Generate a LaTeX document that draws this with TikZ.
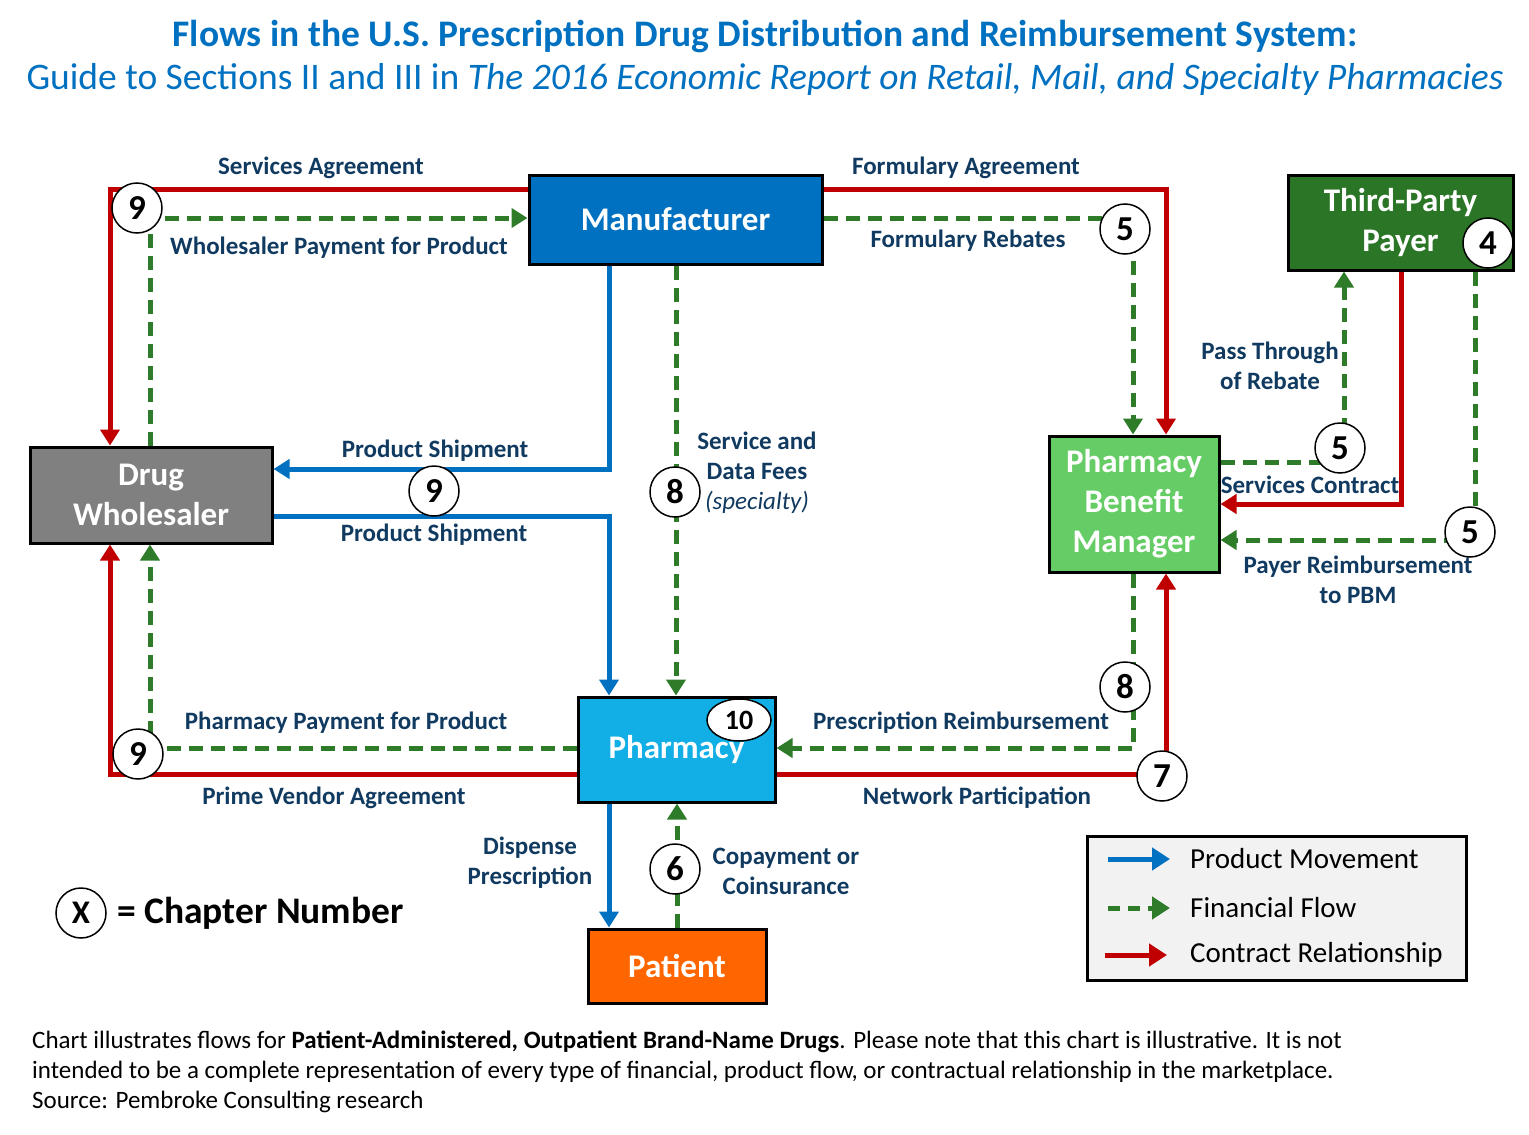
\documentclass[tikz,border=0pt]{standalone}
\usepackage{fontspec}
\setmainfont{Carlito}
\usetikzlibrary{arrows.meta,shapes.geometric}
\definecolor{cblue}{HTML}{0070C0}
\definecolor{cred}{HTML}{C00000}
\definecolor{cgreen}{HTML}{2E7B2A}
\definecolor{lab}{HTML}{113A60}
\definecolor{titleblue}{HTML}{0070C0}
\definecolor{manblue}{HTML}{0070C0}
\definecolor{tppgreen}{HTML}{2B7526}
\definecolor{pbmgreen}{HTML}{66CC66}
\definecolor{pharmblue}{HTML}{12AEE6}
\definecolor{patorange}{HTML}{FF6600}
\definecolor{wgray}{HTML}{808080}
\definecolor{legfill}{HTML}{F2F2F2}
\begin{document}
\begin{tikzpicture}[x=1pt,y=-1pt,
  box/.style={draw=black,line width=3pt,text=white,font=\fontsize{33}{40}\selectfont\bfseries,align=center,inner sep=0pt},
  num/.style={circle,draw=black,line width=1.5pt,fill=white,minimum size=50pt,inner sep=0pt,font=\fontsize{35}{35}\selectfont\bfseries},
  lbl/.style={text=lab,font=\fontsize{25}{30}\selectfont\bfseries,align=center,inner sep=0pt},
  legtxt/.style={anchor=west,font=\fontsize{29}{30}\selectfont,inner sep=0pt},
  tip/.style={-{Triangle[length=16pt,width=19pt]}},
  prod/.style={cblue,line width=5pt,tip},
  fin/.style={cgreen,line width=5pt,dash pattern=on 14pt off 8pt,tip},
  con/.style={cred,line width=5pt,tip},
]
\useasboundingbox (0,0) rectangle (1529,1135);

% title
\node[text=titleblue,font=\fontsize{37.5}{40}\selectfont\bfseries,inner sep=0pt] (title) at (765,36)
  {Flows in the U.S. Prescription Drug Distribution and Reimbursement System:};
\node[text=titleblue,font=\fontsize{37.5}{40}\selectfont,inner sep=0pt] (subtitle) at (765,80)
  {Guide to Sections II and III in \textit{The 2016 Economic Report on Retail, Mail, and Specialty Pharmacies}};

% boxes
\node[box,fill=manblue,minimum width=293pt,minimum height=89pt] (man) at (675.5,219.5) {Manufacturer};
\node[box,fill=tppgreen,minimum width=225pt,minimum height=95pt] (tpp) at (1400.5,222.5) {Third-Party\\Payer};
\node[box,fill=wgray,minimum width=242pt,minimum height=96pt] (whole) at (151,495) {Drug\\Wholesaler};
\node[box,fill=pbmgreen,minimum width=170pt,minimum height=136pt] (pbm) at (1134,504) {Pharmacy\\Benefit\\Manager};
\node[box,fill=pharmblue,minimum width=197pt,minimum height=105pt] (pharm) at (676.5,749.5) {Pharmacy};
\node[box,fill=patorange,minimum width=178pt,minimum height=74pt] (pat) at (677,966) {Patient};

% bend coordinates
\coordinate (sa) at (110,189);
\coordinate (wp) at (150,218);
\coordinate (fa) at (1166,189);
\coordinate (fr) at (1133,218);
\coordinate (ps1) at (609,469);
\coordinate (ps2) at (609,516);
\coordinate (sd) at (676,0);
\coordinate (pp) at (150,748);
\coordinate (pv) at (110,774);
\coordinate (pr) at (1133,748);
\coordinate (np) at (1166,774);
\coordinate (pt) at (1344,462);
\coordinate (sc) at (1401,504);
\coordinate (prb) at (1475,540);
\coordinate (dp) at (609,0);
\coordinate (cp) at (677,0);

% connectors
\draw[con] (man.west |- sa) -- (sa) -- (sa |- whole.north);
\draw[fin] (wp |- whole.north) -- (wp) -- (wp -| man.west);
\draw[con] (man.east |- fa) -- (fa) -- (fa |- pbm.north);
\draw[fin] (man.east |- fr) -- (fr) -- (fr |- pbm.north);
\draw[prod] (ps1 |- man.south) -- (ps1) -- (ps1 -| whole.east);
\draw[prod] (whole.east |- ps2) -- (ps2) -- (ps2 |- pharm.north);
\draw[fin] (sd |- man.south) -- (sd |- pharm.north);
\draw[fin] (pharm.west |- pp) -- (pp) -- (pp |- whole.south);
\draw[con] (pharm.west |- pv) -- (pv) -- (pv |- whole.south);
\draw[fin] (pr |- pbm.south) -- (pr) -- (pr -| pharm.east);
\draw[con] (pharm.east |- np) -- (np) -- (np |- pbm.south);
\draw[fin] (pbm.east |- pt) -- (pt) -- (pt |- tpp.south);
\draw[con] (sc |- tpp.south) -- (sc) -- (sc -| pbm.east);
\draw[fin] (prb |- tpp.south) -- (prb) -- (prb -| pbm.east);
\draw[prod] (dp |- pharm.south) -- (dp |- pat.north);
\draw[fin] (cp |- pat.north) -- (cp |- pharm.south);

% labels
\node[lbl] (l1) at (321,168) {Services Agreement};
\node[lbl] (l2) at (339,248) {Wholesaler Payment for Product};
\node[lbl] (l3) at (966,168) {Formulary Agreement};
\node[lbl] (l4) at (968,241) {Formulary Rebates};
\node[lbl] (l5) at (435,451) {Product Shipment};
\node[lbl] (l6) at (434,535) {Product Shipment};
\node[lbl] (l7) at (757,473) {Service and\\Data Fees\\{\normalfont\itshape (specialty)}};
\node[lbl] (l8) at (1270,366) {Pass Through\\of Rebate};
\node[lbl] (l9) at (1310,485) {Services Contract};
\node[lbl] (l10) at (1358,580) {Payer Reimbursement\\to PBM};
\node[lbl] (l11) at (346,723) {Pharmacy Payment for Product};
\node[lbl] (l12) at (334,798) {Prime Vendor Agreement};
\node[lbl] (l13) at (961,723) {Prescription Reimbursement};
\node[lbl] (l14) at (977,798) {Network Participation};
\node[lbl] (l15) at (530,863) {Dispense\\Prescription};
\node[lbl] (l16) at (786,871) {Copayment or\\Coinsurance};

% chapter numbers
\node[num] (n9a) at (137,208) {9};
\node[num] (n5a) at (1125,229) {5};
\node[num] (n4) at (1488,243) {4};
\node[num] (n9b) at (434,491) {9};
\node[num] (n8a) at (675,492) {8};
\node[num] (n5b) at (1340,448) {5};
\node[num] (n5c) at (1470,532) {5};
\node[num] (n8b) at (1125,687) {8};
\node[num] (n7) at (1162,776) {7};
\node[num] (n9c) at (138,754) {9};
\node[num] (n6) at (675,869) {6};
\node[draw=black,line width=1.5pt,fill=white,ellipse,minimum width=64pt,minimum height=42pt,inner sep=0pt,font=\fontsize{28}{28}\selectfont\bfseries] (n10) at (739,720) {10};

% chapter key
\node[num,font=\fontsize{33}{33}\selectfont\bfseries] (nx) at (81,913) {X};
\node[anchor=west,font=\fontsize{37.5}{40}\selectfont\bfseries,inner sep=0pt] (key) at (117,913) {= Chapter Number};

% legend
\node[draw=black,line width=3pt,fill=legfill,minimum width=379pt,minimum height=144pt] (leg) at (1276.5,908) {};
\coordinate (la1) at (1108,859); \coordinate (lb1) at (1170,859);
\coordinate (la2) at (1108,908); \coordinate (lb2) at (1170,908);
\coordinate (la3) at (1105,955); \coordinate (lb3) at (1167,955);
\draw[prod,-{Triangle[length=18pt,width=22pt]}] (la1) -- (lb1);
\draw[fin,dash pattern=on 12pt off 8pt,-{Triangle[length=18pt,width=22pt]}] (la2) -- (lb2);
\draw[con,-{Triangle[length=18pt,width=22pt]}] (la3) -- (lb3);
\node[legtxt] (lt1) at (1190,859) {Product Movement};
\node[legtxt] (lt2) at (1190,908) {Financial Flow};
\node[legtxt] (lt3) at (1190,955) {Contract Relationship};

% footer
\node[anchor=north west,align=left,font=\fontsize{25}{30}\selectfont,inner sep=0pt] (foot) at (32,1031)
  {Chart illustrates flows for \textbf{Patient-Administered, Outpatient Brand-Name Drugs}. Please note that this chart is illustrative. It is not\\
   intended to be a complete representation of every type of financial, product flow, or contractual relationship in the marketplace.\\
   Source: Pembroke Consulting research};
\end{tikzpicture}
\end{document}
